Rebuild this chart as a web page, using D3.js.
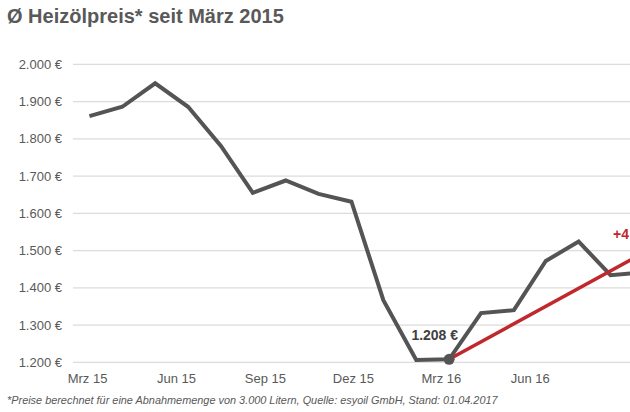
<!DOCTYPE html>
<html>
<head>
<meta charset="utf-8">
<script src="https://cdn.jsdelivr.net/npm/d3@7"></script>
<style>
  html, body { margin: 0; padding: 0; background: #fff; }
  svg { display: block; font-family: "Liberation Sans", Arial, sans-serif; }
</style>
</head>
<body>
<svg id="chart" width="630" height="412"></svg>
<script>
// ---- data ----
const dates = ["2015-03-03","2015-04-06","2015-05-10","2015-06-13","2015-07-17","2015-08-19",
               "2015-09-22","2015-10-26","2015-11-29","2016-01-01","2016-02-04","2016-03-09",
               "2016-04-11","2016-05-15","2016-06-17","2016-07-21","2016-08-23","2016-09-26"];
const prices = [1861, 1886, 1949, 1886, 1781, 1655, 1688, 1652, 1631, 1367, 1206, 1208,
                1332, 1340, 1472, 1524, 1434, 1441];
const trendDates = ["2016-03-09", "2016-09-26"];
const trendValues = [1208, 1494];
const yTicks = [1200, 1300, 1400, 1500, 1600, 1700, 1800, 1900, 2000];
const xTickDates = ["2015-03-01","2015-06-01","2015-09-01","2015-12-01","2016-03-01","2016-06-01"];
const xTickLabels = ["Mrz 15","Jun 15","Sep 15","Dez 15","Mrz 16","Jun 16"];
const minLabel = "1.208 €";
const trendLabel = "+4";
const title = "Ø Heizölpreis* seit März 2015";
const footnote = "*Preise berechnet für eine Abnahmemenge von 3.000 Litern, Quelle: esyoil GmbH, Stand: 01.04.2017";

// ---- setup ----
const parse = d3.timeParse("%Y-%m-%d");
const svg = d3.select("#chart");
const W = 630;
const textColor = "#595959";

const x = d3.scaleTime()
  .domain([parse("2015-03-01"), parse("2016-08-31")])
  .range([87.5, 618.3]);
const y = d3.scaleLinear().domain([1200, 2000]).range([362.3, 64.3]);

const fmt = v => d3.format(",")(v).replace(/,/g, ".") + " €";

// title
svg.append("text")
  .attr("x", 7).attr("y", 23)
  .attr("font-size", 20).attr("font-weight", "bold")
  .attr("fill", textColor)
  .text(title);

// gridlines + y labels
const yAxis = svg.append("g");
yAxis.selectAll("line").data(yTicks).join("line")
  .attr("x1", 73).attr("x2", W)
  .attr("y1", d => y(d)).attr("y2", d => y(d))
  .attr("stroke", "#dcdcdc").attr("stroke-width", 1.3);
yAxis.selectAll("text").data(yTicks).join("text")
  .attr("x", 62).attr("y", d => y(d) + 4.5)
  .attr("text-anchor", "end")
  .attr("font-size", 13).attr("fill", textColor)
  .text(fmt);

// x labels
svg.append("g").selectAll("text").data(xTickDates).join("text")
  .attr("x", d => x(parse(d)))
  .attr("y", 383)
  .attr("text-anchor", "middle")
  .attr("font-size", 13).attr("fill", textColor)
  .text((d, i) => xTickLabels[i]);

// price line
const pts = dates.map((d, i) => ({ date: parse(d), v: prices[i] }));
const line = d3.line().x(d => x(d.date)).y(d => y(d.v));
svg.append("path")
  .datum(pts)
  .attr("d", line)
  .attr("fill", "none")
  .attr("stroke", "#545454")
  .attr("stroke-width", 4)
  .attr("stroke-linejoin", "miter");

// trend line
const tpts = trendDates.map((d, i) => ({ date: parse(d), v: trendValues[i] }));
svg.append("path")
  .datum(tpts)
  .attr("d", line)
  .attr("fill", "none")
  .attr("stroke", "#c0282e")
  .attr("stroke-width", 3.5);

// minimum dot
const minPt = tpts[0];
svg.append("circle")
  .attr("cx", x(minPt.date)).attr("cy", y(minPt.v))
  .attr("r", 5.5).attr("fill", "#545454");

svg.append("text")
  .attr("x", x(minPt.date) + 9).attr("y", y(minPt.v) - 19)
  .attr("text-anchor", "end")
  .attr("font-size", 14).attr("font-weight", "bold")
  .attr("fill", "#404040")
  .text(minLabel);

svg.append("text")
  .attr("x", 629).attr("y", 239)
  .attr("text-anchor", "end")
  .attr("font-size", 14).attr("font-weight", "bold")
  .attr("fill", "#c0282e")
  .text(trendLabel);

// footnote
svg.append("text")
  .attr("x", 7).attr("y", 404)
  .attr("font-size", 10.9).attr("font-style", "italic")
  .attr("fill", textColor)
  .text(footnote);
</script>
</body>
</html>
